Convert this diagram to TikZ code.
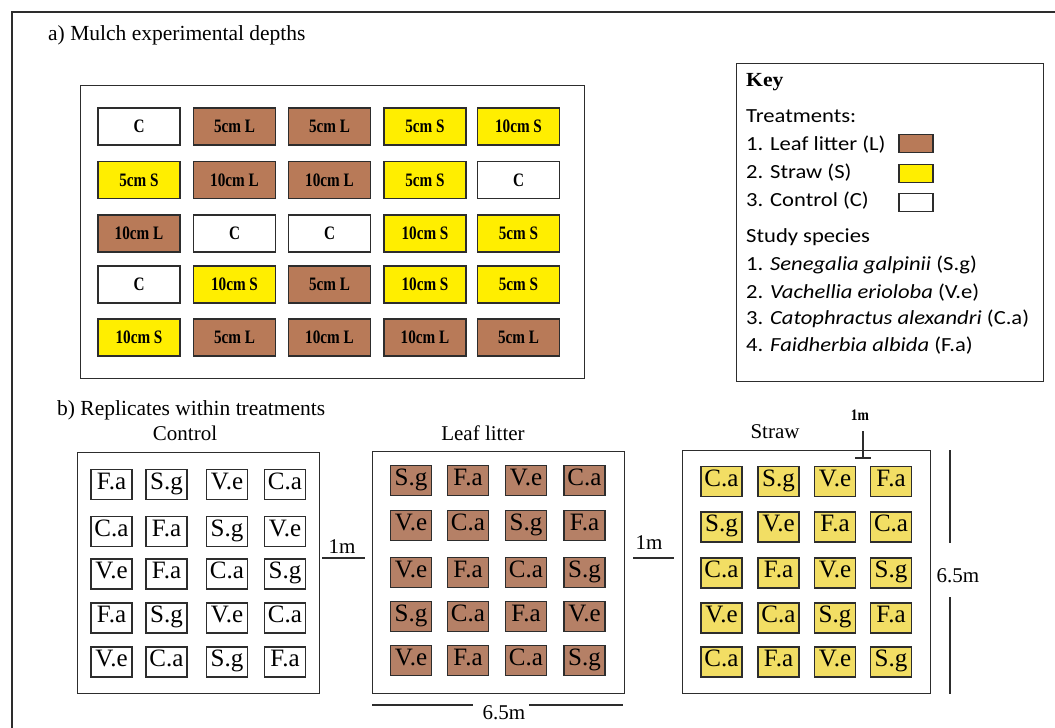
\documentclass[tikz,border=0pt]{standalone}
\usepackage{fontspec}
\setmainfont{Liberation Serif}
\newfontfamily\calib{Carlito}
\usepackage{graphicx}
\definecolor{lbrown}{RGB}{184,122,88}
\definecolor{cbrown}{RGB}{181,128,102}
\definecolor{myyel}{RGB}{255,238,0}
\definecolor{stryel}{RGB}{242,222,100}
\definecolor{edge}{RGB}{45,45,45}
\newcommand\tlab[1]{\scalebox{0.8}[1]{\fontsize{19}{20}\selectfont\bfseries #1}}
\newcommand\klab[1]{\scalebox{1.13}[1]{\fontsize{20}{24}\selectfont\calib #1}}
\begin{document}
\begin{tikzpicture}[x=1pt,y=-1pt,
  framel/.style={draw=edge,line width=1.3pt},
  boxst/.style={draw=edge,line width=1.4pt,anchor=north west,inner sep=0pt},
  tcell/.style={draw=edge,line width=1.2pt,minimum width=82pt,minimum height=37pt,inner sep=0pt,text height=12.5pt,text depth=0pt},
  bcell/.style={draw=edge,line width=1.1pt,minimum width=41pt,minimum height=30pt,inner sep=0pt,text height=18pt,text depth=9pt,font=\fontsize{25}{28}\selectfont},
  swatch/.style={draw=edge,line width=1.1pt,minimum width=34pt,minimum height=18pt,inner sep=0pt},
  lbl/.style={anchor=base,inner sep=0pt,font=\fontsize{21}{25}\selectfont},
  klbl/.style={anchor=base west,inner sep=0pt},
  dim/.style={draw=edge,line width=1.1pt}
]
\useasboundingbox (0,0) rectangle (1055,728);
\fill[white] (0,0) rectangle (1055,728);
% outer frame
\coordinate (fa) at (12,728);
\coordinate (fb) at (12,12);
\coordinate (fc) at (1055,12);
\draw[framel] (fa) -- (fb) -- (fc);

% titles
\node[anchor=base west,inner sep=0pt,font=\fontsize{21.5}{26}\selectfont] (ttla) at (48,40) {a) Mulch experimental depths};
\node[anchor=base west,inner sep=0pt,font=\fontsize{21.5}{26}\selectfont] (ttlb) at (57,415) {b) Replicates within treatments};

% a) grid
\node[boxst,minimum width=504pt,minimum height=293pt] (grid) at (80,85) {};
\foreach \y/\r/\a/\ka/\b/\kb/\c/\kc/\d/\kd/\e/\ke in {
  126.5/1/C/white/5cm L/lbrown/5cm L/lbrown/5cm S/myyel/10cm S/myyel,
  180/2/5cm S/myyel/10cm L/lbrown/10cm L/lbrown/5cm S/myyel/C/white,
  233.5/3/10cm L/lbrown/C/white/C/white/10cm S/myyel/5cm S/myyel,
  284.5/4/C/white/10cm S/myyel/5cm L/lbrown/10cm S/myyel/5cm S/myyel,
  337.5/5/10cm S/myyel/5cm L/lbrown/10cm L/lbrown/10cm L/lbrown/5cm L/lbrown}{
  \node[tcell,fill=\ka] (t\r-1) at (139,\y) {\tlab{\a}};
  \node[tcell,fill=\kb] (t\r-2) at (234.5,\y) {\tlab{\b}};
  \node[tcell,fill=\kc] (t\r-3) at (329.5,\y) {\tlab{\c}};
  \node[tcell,fill=\kd] (t\r-4) at (425,\y) {\tlab{\d}};
  \node[tcell,fill=\ke] (t\r-5) at (518.5,\y) {\tlab{\e}};
}

% key
\node[boxst,minimum width=307pt,minimum height=318pt] (key) at (736,63) {};
\node[klbl,font=\fontsize{20}{24}\selectfont\bfseries] (kkey) at (746,86) {\scalebox{1.08}[1]{Key}};
\node[klbl] (k1) at (746,122) {\klab{Treatments:}};
\node[klbl] (k2) at (746,150) {\klab{1. Leaf litter (L)}};
\node[klbl] (k3) at (746,178) {\klab{2. Straw (S)}};
\node[klbl] (k4) at (746,206) {\klab{3. Control (C)}};
\node[klbl] (k5) at (746,242) {\klab{Study species}};
\node[klbl] (k6) at (746,270) {\klab{1. \textit{Senegalia galpinii} (S.g)}};
\node[klbl] (k7) at (746,298) {\klab{2. \textit{Vachellia erioloba} (V.e)}};
\node[klbl] (k8) at (746,324) {\klab{3. \textit{Catophractus alexandri} (C.a)}};
\node[klbl] (k9) at (746,351) {\klab{4. \textit{Faidherbia albida} (F.a)}};
\node[swatch,fill=lbrown] (sw1) at (916,143.5) {};
\node[swatch,fill=myyel] (sw2) at (916,173.5) {};
\node[swatch,fill=white] (sw3) at (916,202.5) {};

% b) plots
\node[lbl] (lctl) at (185,440) {Control};
\node[lbl] (lleaf) at (483,440) {Leaf litter};
\node[lbl] (lstr) at (775,438) {Straw};
\node[boxst,minimum width=242pt,minimum height=241pt] (ctl) at (77,452) {};
\node[boxst,minimum width=252pt,minimum height=242pt] (leaf) at (372,451) {};
\node[boxst,minimum width=248pt,minimum height=243pt] (straw) at (682,450) {};

\foreach \y/\r/\a/\b/\c/\d in {484.5/1/F.a/S.g/V.e/C.a, 531.5/2/C.a/F.a/S.g/V.e, 574/3/V.e/F.a/C.a/S.g, 618/4/F.a/S.g/V.e/C.a, 662/5/V.e/C.a/S.g/F.a}{
  \node[bcell,fill=white] (c\r-1) at (111.5,\y) {\a};
  \node[bcell,fill=white] (c\r-2) at (166.5,\y) {\b};
  \node[bcell,fill=white] (c\r-3) at (227,\y) {\c};
  \node[bcell,fill=white] (c\r-4) at (285,\y) {\d};
}
\foreach \y/\r/\a/\b/\c/\d in {480.5/1/S.g/F.a/V.e/C.a, 525.5/2/V.e/C.a/S.g/F.a, 572.5/3/V.e/F.a/C.a/S.g, 616.5/4/S.g/C.a/F.a/V.e, 660.5/5/V.e/F.a/C.a/S.g}{
  \node[bcell,fill=cbrown] (l\r-1) at (411,\y) {\a};
  \node[bcell,fill=cbrown] (l\r-2) at (468,\y) {\b};
  \node[bcell,fill=cbrown] (l\r-3) at (526,\y) {\c};
  \node[bcell,fill=cbrown] (l\r-4) at (584.5,\y) {\d};
}
\foreach \y/\r/\a/\b/\c/\d in {481.5/1/C.a/S.g/V.e/F.a, 527/2/S.g/V.e/F.a/C.a, 573/3/C.a/F.a/V.e/S.g, 618/4/V.e/C.a/S.g/F.a, 662/5/C.a/F.a/V.e/S.g}{
  \node[bcell,fill=stryel] (s\r-1) at (721.5,\y) {\a};
  \node[bcell,fill=stryel] (s\r-2) at (778.5,\y) {\b};
  \node[bcell,fill=stryel] (s\r-3) at (835,\y) {\c};
  \node[bcell,fill=stryel] (s\r-4) at (891,\y) {\d};
}

% dimensions
\coordinate (g1a) at (322,558);
\coordinate (g1b) at (365,558);
\draw[dim] (g1a) -- (g1b);
\node[lbl] (g1) at (342,553) {1m};
\coordinate (g2a) at (633,558);
\coordinate (g2b) at (674,558);
\draw[dim] (g2a) -- (g2b);
\node[lbl] (g2) at (649,549) {1m};

\node[lbl] (w65) at (504,719) {6.5m};
\coordinate (w1) at (372,705);
\coordinate (w2) at (473,705);
\coordinate (w3) at (529,705);
\coordinate (w4) at (623,705);
\draw[dim] (w1) -- (w2);
\draw[dim] (w3) -- (w4);

\node[lbl] (h65) at (958,582) {6.5m};
\coordinate (h1) at (950,450);
\coordinate (h2) at (950,543);
\coordinate (h3) at (950,597);
\coordinate (h4) at (950,694);
\draw[dim] (h1) -- (h2);
\draw[dim] (h3) -- (h4);

\node[anchor=base,inner sep=0pt,font=\fontsize{16}{18}\selectfont\bfseries] (m1) at (860,420) {\scalebox{0.85}[1]{1m}};
\coordinate (m1a) at (863,431);
\coordinate (m1b) at (863,458);
\coordinate (m1c) at (855,458);
\coordinate (m1d) at (871,458);
\draw[dim] (m1a) -- (m1b);
\draw[dim] (m1c) -- (m1d);
\end{tikzpicture}
\end{document}
